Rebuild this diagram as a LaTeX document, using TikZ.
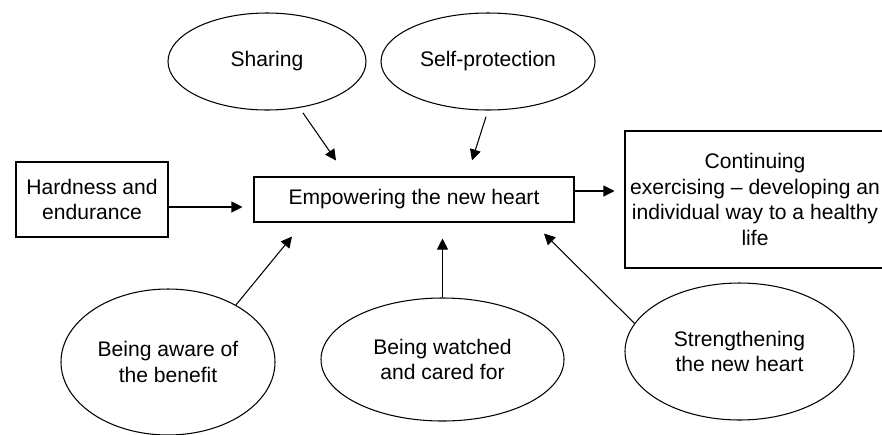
\documentclass[tikz,border=0pt]{standalone}
\usepackage{fontspec}
\setmainfont{Liberation Sans}
\usetikzlibrary{arrows.meta,shapes.geometric}

\begin{document}
\begin{tikzpicture}[>={Triangle[length=0.22cm,width=0.22cm]},line width=0.6pt,
  font=\fontsize{12}{14.6}\selectfont,
  box/.style={draw,rectangle,inner sep=0pt,align=center},
  oval/.style={draw,ellipse,inner sep=0pt,align=center}]
\useasboundingbox (0,0) rectangle (17.64,-8.68);
\node[box,minimum width=6.4cm,minimum height=0.9cm] (emp) at (8.28,-3.99) {Empowering the new heart};
\node[box,minimum width=3.04cm,minimum height=1.5cm] (hard) at (1.84,-3.99) {Hardness and\\endurance};
\node[box,minimum width=5.2cm,minimum height=2.74cm] (cont) at (15.1,-3.99) {Continuing\\exercising -- developing an\\individual way to a healthy\\life};
\node[oval,minimum width=3.96cm,minimum height=1.94cm] (share) at (5.34,-1.23) {Sharing};
\node[oval,minimum width=4.28cm,minimum height=1.94cm] (selfp) at (9.76,-1.23) {Self-protection};
\node[oval,minimum width=4.28cm,minimum height=2.92cm] (aware) at (3.36,-7.24) {Being aware of\\the benefit};
\node[oval,minimum width=4.86cm,minimum height=2.46cm] (watch) at (8.85,-7.19) {Being watched\\and cared for};
\node[oval,minimum width=4.58cm,minimum height=2.74cm] (strong) at (14.79,-7.03) {Strengthening\\the new heart};
\draw[->,shorten >=0.22cm] ([yshift=-0.15cm]hard.east) -- ([yshift=-0.15cm]emp.west);
\draw[->,shorten >=0.2cm] ([yshift=0.17cm]emp.east) -- ([yshift=0.17cm]cont.west);
\draw[->,shorten <=0.12cm] (share.-55) -- ([xshift=-1.56cm,yshift=0.32cm]emp.north);
\draw[->,shorten <=0.13cm] (selfp.south) -- ([xshift=1.16cm,yshift=0.32cm]emp.north);
\draw[->] (aware.40) -- ([xshift=-2.44cm,yshift=-0.28cm]emp.south);
\draw[->,shorten >=0.32cm] (watch.north) -- (watch.north |- emp.south);
\draw[->] (strong.165) -- ([xshift=2.6cm,yshift=-0.22cm]emp.south);
\end{tikzpicture}
\end{document}
